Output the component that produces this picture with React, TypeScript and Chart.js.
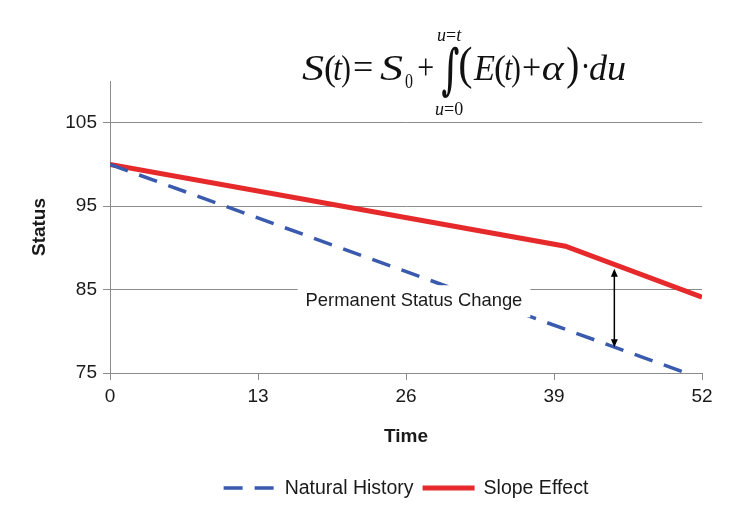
import React, { useEffect, useRef } from "react";
import { Chart, registerables } from "chart.js";

Chart.register(...registerables);

// ---- data ----
const naturalTimes = [0, 50.6];
const naturalValues = [100, 75];
const slopeTimes = [0, 40, 52];
const slopeValues = [100, 90.2, 84.1];
const seriesLabels = ["Natural History", "Slope Effect"];
const xTickValues = [0, 13, 26, 39, 52];
const yTickValues = [75, 85, 95, 105];
const xTitle = "Time";
const yTitle = "Status";
const annotationText = "Permanent Status Change";
const annotationAnchor = [26.7, 83.6]; // time, status
const arrowTime = 44.3;
const arrowFrom = 87.5;
const arrowTo = 78.1;

const BLUE = "#3a5aae";
const RED = "#e62a2c";
const GRID = "#8c8c8c";
const TEXT = "#1a1a1a";
const SANS = "'Liberation Sans', Arial, sans-serif";
const SERIF = "'Liberation Serif', 'Times New Roman', serif";

function drawFit(
  ctx: CanvasRenderingContext2D,
  text: string,
  font: string,
  l: number,
  t: number,
  r: number,
  b: number
) {
  ctx.save();
  ctx.font = font;
  ctx.textAlign = "left";
  ctx.textBaseline = "alphabetic";
  const m = ctx.measureText(text);
  const abl = m.actualBoundingBoxLeft;
  const abr = m.actualBoundingBoxRight;
  const ga = m.actualBoundingBoxAscent;
  const gd = m.actualBoundingBoxDescent;
  const sx = (r - l) / (abl + abr);
  const sy = (b - t) / (ga + gd);
  ctx.translate(l, t);
  ctx.scale(sx, sy);
  ctx.fillText(text, abl, ga);
  ctx.restore();
}

// draw a glyph so its ink spans [l, r] horizontally, on baseline y
function putW(
  ctx: CanvasRenderingContext2D,
  text: string,
  font: string,
  l: number,
  r: number,
  y: number
) {
  ctx.save();
  ctx.font = font;
  ctx.textAlign = "left";
  ctx.textBaseline = "alphabetic";
  const m = ctx.measureText(text);
  const abl = m.actualBoundingBoxLeft;
  const w = abl + m.actualBoundingBoxRight;
  const sx = (r - l) / w;
  ctx.translate(l, y);
  ctx.scale(sx, 1);
  ctx.fillText(text, abl, 0);
  ctx.restore();
}

const formulaPlugin = {
  id: "formula",
  afterDraw(chart: any) {
    const ctx: CanvasRenderingContext2D = chart.ctx;
    ctx.save();
    ctx.fillStyle = "#111";
    const I = `italic 36px ${SERIF}`;
    const R = `36px ${SERIF}`;
    const b = 80;
    putW(ctx, "S", I, 302, 324, b);
    putW(ctx, "(", R, 325, 335, b);
    putW(ctx, "t", I, 334, 343, b);
    putW(ctx, ")", R, 342, 350, b);
    putW(ctx, "=", R, 354, 372, b - 1);
    putW(ctx, "S", I, 380, 403, b);
    putW(ctx, "0", `20px ${SERIF}`, 405, 413, 88);
    putW(ctx, "+", R, 418, 433, b - 1);
    drawFit(ctx, "\u222B", `bold 60px 'DejaVu Serif', serif`, 442, 46, 459, 98);
    // limits
    const lim = (parts: [string, boolean][], x: number, y: number) => {
      let cx = x;
      for (const [p, it] of parts) {
        ctx.font = `${it ? "italic " : ""}18px ${SERIF}`;
        ctx.textAlign = "left";
        ctx.textBaseline = "alphabetic";
        ctx.fillText(p, cx, y);
        cx += ctx.measureText(p).width;
      }
    };
    lim([["u", true], ["=", false], ["t", true]], 437, 41);
    lim([["u", true], ["=", false], ["0", false]], 435, 115);
    drawFit(ctx, "(", `50px ${SERIF}`, 460, 45, 472, 89);
    putW(ctx, "E", I, 473, 495, b);
    putW(ctx, "(", R, 495, 505, b);
    putW(ctx, "t", I, 505, 513, b);
    putW(ctx, ")", R, 512, 520, b);
    putW(ctx, "+", R, 523, 540, b - 1);
    putW(ctx, "\u03B1", I, 543, 565, b);
    drawFit(ctx, ")", `50px ${SERIF}`, 567, 45, 578, 89);
    putW(ctx, "\u00B7", R, 583, 588, b - 2);
    putW(ctx, "d", I, 590, 608, b);
    putW(ctx, "u", I, 608, 625, b);
    ctx.restore();
  },
};

const annotationPlugin = {
  id: "annotation",
  afterDatasetsDraw(chart: any) {
    const ctx: CanvasRenderingContext2D = chart.ctx;
    const xs = chart.scales.x;
    const ys = chart.scales.y;
    ctx.save();
    // label with white box
    const cx = xs.getPixelForValue(annotationAnchor[0]);
    const cy = ys.getPixelForValue(annotationAnchor[1]);
    ctx.font = `18.4px ${SANS}`;
    const w = ctx.measureText(annotationText).width;
    ctx.fillStyle = "#ffffff";
    ctx.fillRect(cx - w / 2 - 8, cy - 16, w + 16, 32);
    ctx.fillStyle = TEXT;
    ctx.textAlign = "center";
    ctx.textBaseline = "middle";
    ctx.fillText(annotationText, cx, cy);
    // arrow
    const ax = xs.getPixelForValue(arrowTime);
    const y1 = ys.getPixelForValue(arrowFrom);
    const y2 = ys.getPixelForValue(arrowTo);
    ctx.strokeStyle = "#000";
    ctx.fillStyle = "#000";
    ctx.lineWidth = 1.5;
    ctx.beginPath();
    ctx.moveTo(ax, y1 + 6);
    ctx.lineTo(ax, y2 - 6);
    ctx.stroke();
    ctx.beginPath();
    ctx.moveTo(ax, y1);
    ctx.lineTo(ax - 3.5, y1 + 8);
    ctx.lineTo(ax + 3.5, y1 + 8);
    ctx.closePath();
    ctx.fill();
    ctx.beginPath();
    ctx.moveTo(ax, y2);
    ctx.lineTo(ax - 3.5, y2 - 8);
    ctx.lineTo(ax + 3.5, y2 - 8);
    ctx.closePath();
    ctx.fill();
    ctx.restore();
  },
};

const legendPlugin = {
  id: "customLegend",
  afterDraw(chart: any) {
    const ctx: CanvasRenderingContext2D = chart.ctx;
    const area = chart.chartArea;
    const ds = chart.data.datasets;
    ctx.save();
    ctx.font = `19.5px ${SANS}`;
    const sampleW = 52;
    const gapText = 9;
    const gapItem = 9;
    let total = 0;
    ds.forEach((d: any, i: number) => {
      total += sampleW + gapText + ctx.measureText(d.label).width;
      if (i > 0) total += gapItem;
    });
    let x = (area.left + area.right) / 2 - total / 2;
    const y = 488;
    ds.forEach((d: any) => {
      ctx.strokeStyle = d.borderColor;
      ctx.lineWidth = d.borderWidth;
      ctx.setLineDash(d.borderDash || []);
      ctx.beginPath();
      ctx.moveTo(x, y);
      ctx.lineTo(x + sampleW, y);
      ctx.stroke();
      ctx.setLineDash([]);
      x += sampleW + gapText;
      ctx.fillStyle = TEXT;
      ctx.textAlign = "left";
      ctx.textBaseline = "middle";
      ctx.fillText(d.label, x, y + 1);
      x += ctx.measureText(d.label).width + gapItem;
    });
    ctx.restore();
  },
};

export default function App() {
  const ref = useRef<HTMLCanvasElement | null>(null);
  useEffect(() => {
    document.body.style.margin = "0";
    const canvas = ref.current;
    if (!canvas) return;
    const chart = new Chart(canvas, {
      type: "line",
      data: {
        datasets: [
          {
            label: seriesLabels[0],
            data: naturalTimes.map((t, i) => ({ x: t, y: naturalValues[i] })),
            borderColor: BLUE,
            backgroundColor: BLUE,
            borderWidth: 3.5,
            borderDash: [19, 12],
            pointRadius: 0,
            tension: 0,
          },
          {
            label: seriesLabels[1],
            data: slopeTimes.map((t, i) => ({ x: t, y: slopeValues[i] })),
            borderColor: RED,
            backgroundColor: RED,
            borderWidth: 5,
            pointRadius: 0,
            tension: 0,
          },
        ],
      },
      options: {
        animation: false,
        responsive: false,
        maintainAspectRatio: false,
        layout: { padding: { top: 81, right: 40, left: 0, bottom: 0 } },
        plugins: {
          legend: { display: false },
          tooltip: { enabled: false },
          title: { display: false },
        },
        scales: {
          x: {
            type: "linear",
            min: 0,
            max: 52,
            afterBuildTicks: (s: any) => {
              s.ticks = xTickValues.map((v) => ({ value: v }));
            },
            afterFit: (s: any) => {
              s.height = 147;
            },
            grid: {
              drawOnChartArea: false,
              drawTicks: true,
              tickLength: 7,
              color: GRID,
            },
            border: { display: true, color: GRID },
            ticks: {
              color: TEXT,
              font: { family: SANS, size: 19 },
              padding: 5,
              maxRotation: 0,
            },
            title: {
              display: true,
              text: xTitle,
              color: TEXT,
              font: { family: SANS, size: 19, weight: "bold" },
              padding: { top: 0, bottom: 71.6 },
            },
          },
          y: {
            type: "linear",
            min: 75,
            max: 110,
            afterBuildTicks: (s: any) => {
              s.ticks = yTickValues.map((v) => ({ value: v }));
            },
            afterFit: (s: any) => {
              s.width = 110;
            },
            grid: {
              color: GRID,
              tickLength: 7,
              drawTicks: true,
            },
            border: { display: true, color: GRID },
            ticks: {
              color: TEXT,
              font: { family: SANS, size: 19 },
              padding: 6,
            },
            title: {
              display: true,
              text: yTitle,
              color: TEXT,
              font: { family: SANS, size: 19, weight: "bold" },
              padding: { top: 28.6, bottom: 0 },
            },
          },
        },
      },
      plugins: [annotationPlugin, formulaPlugin, legendPlugin],
    } as any);
    return () => chart.destroy();
  }, []);
  return (
    <div style={{ width: 742, height: 520, background: "#fff" }}>
      <canvas ref={ref} width={742} height={520} style={{ display: "block" }} />
    </div>
  );
}
